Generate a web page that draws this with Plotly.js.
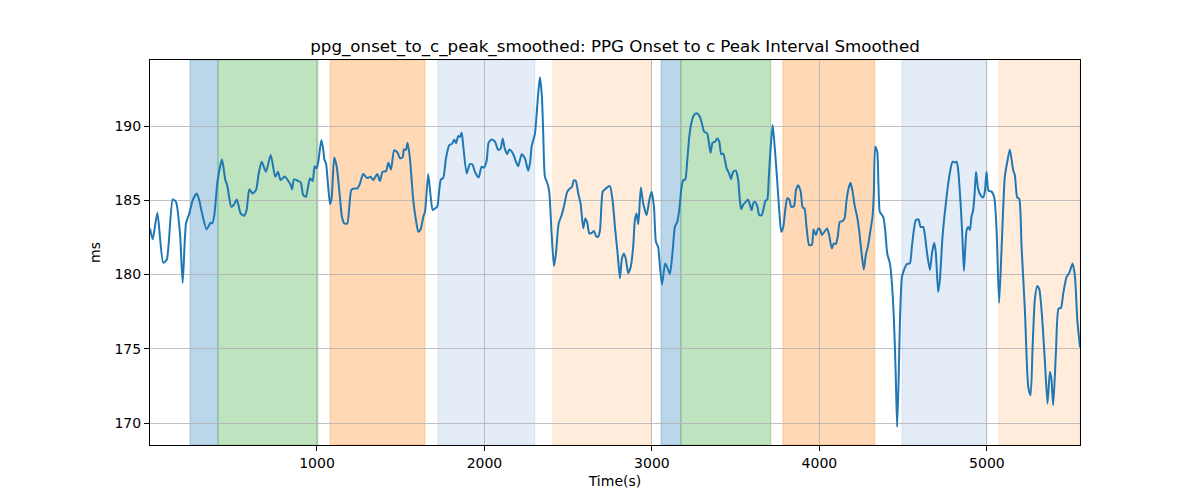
<!DOCTYPE html>
<html>
<head>
<meta charset="utf-8">
<script src="https://cdn.plot.ly/plotly-3.0.1.min.js"></script>
<style>html,body{margin:0;padding:0;background:#fff;}#chart{width:1200px;height:500px;}</style>
</head>
<body>
<div id="chart"></div>
<script>
// Time (s)
const timeSec = [3,19,47,82,103,139,158,182,198,218,238,258,282,297,312,341,365,375,387,407,433,453,464,488,504,521,544,564,580,596,616,636,652,670,695,724,751,767,783,807,823,843,851,863,888,903,918,934,942,958,974,986,998,1008,1026,1038,1044,1054,1067,1078,1088,1103,1118,1133,1149,1163,1181,1193,1205,1221,1241,1257,1276,1300,1321,1336,1360,1376,1392,1412,1426,1442,1461,1482,1496,1512,1519,1531,1541,1555,1575,1591,1605,1619,1635,1645,1664,1679,1691,1704,1718,1730,1740,1754,1770,1790,1806,1820,1830,1844,1854,1864,1873,1894,1913,1929,1943,1965,1983,1997,2013,2025,2043,2063,2082,2097,2109,2121,2136,2148,2162,2176,2188,2202,2222,2242,2261,2272,2282,2301,2321,2331,2343,2351,2361,2375,2387,2401,2415,2427,2443,2461,2475,2494,2510,2522,2534,2546,2560,2574,2590,2602,2614,2626,2640,2654,2666,2679,2690,2706,2719,2733,2749,2765,2781,2795,2809,2821,2833,2845,2858,2873,2888,2898,2908,2918,2924,2934,2948,2968,2984,2998,3012,3024,3037,3048,3060,3072,3079,3091,3107,3123,3137,3151,3163,3177,3187,3199,3211,3223,3237,3251,3267,3286,3298,3312,3330,3338,3350,3362,3376,3390,3402,3414,3426,3436,3446,3461,3472,3485,3501,3515,3525,3533,3545,3561,3573,3585,3595,3605,3615,3629,3641,3655,3669,3677,3689,3697,3709,3721,3733,3745,3760,3772,3784,3796,3808,3820,3832,3848,3860,3873,3888,3900,3911,3923,3939,3955,3965,3979,3993,4003,4015,4031,4046,4058,4074,4086,4098,4110,4122,4138,4150,4162,4174,4186,4198,4210,4226,4237,4252,4265,4277,4291,4305,4317,4325,4333,4345,4353,4361,4381,4393,4405,4421,4433,4445,4455,4464,4473,4481,4493,4505,4521,4540,4552,4564,4576,4592,4604,4620,4630,4643,4660,4672,4685,4695,4709,4719,4735,4755,4775,4795,4809,4819,4829,4843,4854,4863,4879,4889,4899,4908,4918,4927,4935,4947,4962,4978,4988,4998,5010,5027,5044,5058,5073,5089,5107,5122,5137,5157,5167,5181,5193,5207,5227,5247,5261,5273,5286,5300,5313,5328,5346,5362,5376,5385,5396,5412,5428,5442,5456,5476,5492,5512,5526,5540,5556];
// PPG onset to c peak interval, smoothed (ms)
const intervalMs = [183.1,182.37,184.16,180.8,181.0,185.06,184.9,182.77,179.44,183.44,184.12,185.01,185.46,185.0,184.22,183.04,183.49,183.45,184.0,186.36,187.75,186.36,186.02,184.56,184.7,185.06,184.12,183.96,184.35,185.73,185.46,185.69,186.81,187.6,186.92,188.05,186.58,186.92,186.36,186.6,186.4,186.02,185.73,186.41,186.3,186.2,185.35,185.24,185.6,186.48,186.3,187.3,187.15,187.6,189.06,188.38,187.75,187.48,185.91,184.74,185.2,187.89,187.26,185.69,183.89,183.44,183.44,184.56,185.69,185.8,185.8,186.14,186.77,186.5,186.58,186.36,186.77,186.3,186.92,186.95,187.53,187.08,188.38,188.2,187.82,187.9,188.43,188.4,188.88,187.82,185.0,183.67,182.88,183.05,183.89,184.22,186.77,185.24,184.34,184.45,184.56,185.69,186.41,186.5,187.82,188.72,188.8,189.1,188.85,189.33,189.27,189.55,188.72,186.81,187.44,187.4,186.92,186.54,187.26,187.2,187.66,188.88,189.1,188.95,188.38,188.5,189.17,188.5,188.11,188.43,188.3,188.0,187.6,187.3,188.11,187.82,186.99,187.5,188.65,189.46,192.2,193.28,191.97,189.5,186.58,186.18,185.57,182.77,180.57,181.42,183.44,184.0,184.6,185.57,185.8,185.9,186.36,186.3,185.46,184.79,183.11,183.78,183.5,182.77,182.8,182.93,182.6,182.54,183.0,185.57,185.73,185.87,185.96,185.0,182.99,181.42,179.74,181.09,181.42,181.0,180.11,180.5,181.87,183.67,184.12,183.4,184.2,185.87,184.79,184.0,185.0,185.57,184.6,182.2,181.87,180.52,179.33,180.3,180.75,180.5,180.03,181.5,183.21,183.55,184.34,185.91,186.36,186.4,187.71,189.28,190.29,190.74,190.86,190.63,190.2,189.62,189.5,189.06,188.2,188.88,188.95,189.17,188.95,188.11,188.15,187.71,187.15,186.81,186.43,186.92,186.99,186.36,185.0,184.39,184.7,184.9,185.06,184.7,184.34,184.8,184.9,184.6,184.0,184.0,184.56,184.95,185.06,186.36,188.6,190.07,188.6,186.81,184.34,182.88,183.21,184.34,185.13,185.05,184.56,184.6,185.69,186.02,185.6,184.52,184.45,183.21,181.98,182.0,183.04,182.66,183.1,183.05,182.66,182.9,183.11,182.66,181.76,182.1,182.05,182.6,183.55,183.6,183.78,185.0,185.8,186.18,185.6,184.68,183.85,182.99,181.42,180.34,181.31,181.98,182.99,183.89,185.46,188.6,188.27,185.91,184.22,183.89,182.99,181.42,180.75,179.4,176.93,173.56,169.74,172.88,176.93,179.85,180.3,180.7,180.75,181.87,182.99,183.67,183.71,183.21,183.2,182.66,181.42,180.3,181.42,182.14,181.5,178.83,179.6,182.54,184.8,186.58,187.6,187.55,187.6,187.0,184.79,182.5,180.25,182.99,183.21,183.0,183.89,184.34,185.5,186.92,185.8,185.35,185.19,185.6,186.92,185.64,185.6,185.19,182.99,178.09,182.1,186.58,187.6,188.43,187.03,186.7,185.19,185.1,181.87,177.6,172.43,171.87,175.13,178.27,179.22,179.0,177.38,174.23,171.31,173.44,173.0,171.2,174.68,177.71,177.75,178.73,179.85,180.11,180.75,179.85,176.93,175.1];

// Shaded phases: start, end, colour
const spanStarts = [242, 409, 1078, 1722, 2409, 3054, 3173, 3782, 4493, 5072];
const spanEnds   = [409, 1006, 1645, 2301, 2994, 3173, 3710, 4331, 5000, 5556];
const spanColors = [
  'rgba(31,119,180,0.3)', 'rgba(44,160,44,0.3)', 'rgba(255,127,14,0.3)',
  'rgba(70,130,200,0.15)', 'rgba(255,127,14,0.15)',
  'rgba(31,119,180,0.3)', 'rgba(44,160,44,0.3)', 'rgba(255,127,14,0.3)',
  'rgba(70,130,200,0.15)', 'rgba(255,127,14,0.15)'
];

const xTicks = [1000, 2000, 3000, 4000, 5000];
const yTicks = [170, 175, 180, 185, 190];

const shapes = spanStarts.map((s, i) => ({
  type: 'rect', xref: 'x', yref: 'paper', x0: s, x1: spanEnds[i], y0: 0, y1: 1,
  fillcolor: spanColors[i], line: {width: 1, color: spanColors[i]}, layer: 'below'
}));

const trace = {
  x: timeSec, y: intervalMs, type: 'scatter', mode: 'lines',
  line: {color: '#1f77b4', width: 2, shape: 'spline', smoothing: 0.6},
  hoverinfo: 'skip', showlegend: false
};

const font = {family: 'DejaVu Sans, sans-serif', size: 14, color: '#000'};

const layout = {
  width: 1200, height: 500,
  margin: {l: 150, r: 120, t: 60, b: 55},
  paper_bgcolor: '#fff', plot_bgcolor: '#fff',
  font: font,
  title: {
    text: 'ppg_onset_to_c_peak_smoothed: PPG Onset to c Peak Interval Smoothed',
    font: {family: 'DejaVu Sans, sans-serif', size: 16.7, color: '#000'},
    x: 0.5125, xanchor: 'center', y: 0.908, yanchor: 'middle', yref: 'container'
  },
  xaxis: {
    range: [3, 5556], tickvals: xTicks, ticktext: xTicks.map(String),
    showgrid: true, gridcolor: '#b0b0b0', gridwidth: 0.8,
    zeroline: false, showline: true, linecolor: '#000', linewidth: 1, mirror: true,
    ticks: 'outside', ticklen: 5, tickwidth: 1, tickcolor: '#000',
    tickfont: font,
    title: {text: 'Time(s)', font: font, standoff: 6}
  },
  yaxis: {
    range: [168.52, 194.45], tickvals: yTicks, ticktext: yTicks.map(String),
    showgrid: true, gridcolor: '#b0b0b0', gridwidth: 0.8,
    zeroline: false, showline: true, linecolor: '#000', linewidth: 1, mirror: true,
    ticks: 'outside', ticklen: 5, tickwidth: 1, tickcolor: '#000',
    tickfont: font,
    title: {text: 'ms', font: font, standoff: 10}
  },
  shapes: shapes,
  hovermode: false
};

Plotly.newPlot('chart', [trace], layout, {displayModeBar: false, staticPlot: true});
</script>
</body>
</html>
